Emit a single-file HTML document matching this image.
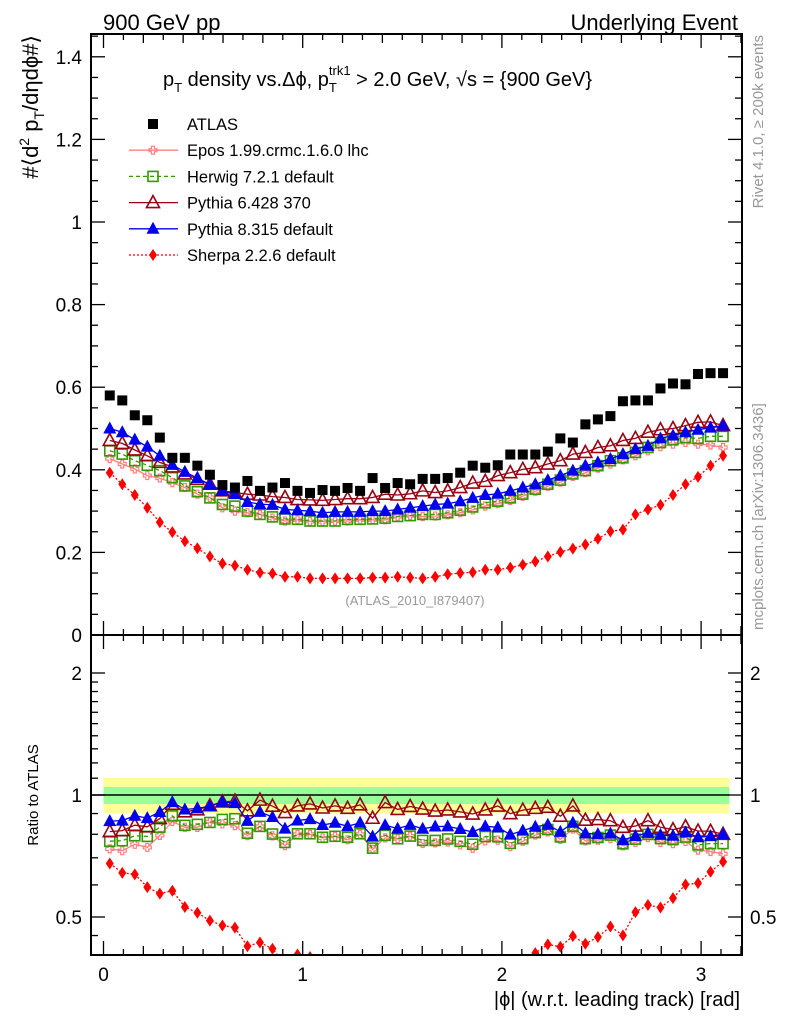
<!DOCTYPE html>
<html><head><meta charset="utf-8"><style>
html,body{margin:0;padding:0;background:#fff}
svg{display:block;font-family:"Liberation Sans",sans-serif}
</style></head><body>
<svg id="chart" width="786" height="1024" viewBox="0 0 786 1024">
<defs>
<clipPath id="clipMain"><rect x="91" y="34" width="651" height="600"/></clipPath>
<clipPath id="clipRatio"><rect x="91" y="635" width="651" height="320"/></clipPath>
</defs>
<g id="bands"></g>
<g id="marks"></g>
<g id="axes"></g>
<text x="103" y="30" font-size="22">900 GeV pp</text>
<text x="738" y="30" font-size="22" text-anchor="end">Underlying Event</text>
<text x="163" y="86" font-size="20">p<tspan font-size="13" dy="6">T</tspan><tspan dy="-6"> density vs.Δϕ, p</tspan><tspan font-size="13" dy="6">T</tspan><tspan font-size="13" dx="-8" dy="-17">trk1</tspan><tspan dy="11"> &gt; 2.0 GeV, √s = {900 GeV}</tspan></text>
<text x="415" y="605" font-size="13" fill="#999" text-anchor="middle">(ATLAS_2010_I879407)</text>
<text transform="translate(38,35) rotate(-90)" font-size="22" text-anchor="end">#⟨d<tspan font-size="14" dy="-9">2</tspan><tspan dy="9"> p</tspan><tspan font-size="14" dy="6">T</tspan><tspan dy="-6">/dηdϕ#⟩</tspan></text>
<text transform="translate(38,795) rotate(-90)" font-size="15" text-anchor="middle">Ratio to ATLAS</text>
<text x="740" y="1006" font-size="20" text-anchor="end">|ϕ| (w.r.t. leading track) [rad]</text>
<text transform="translate(763,35) rotate(-90)" font-size="15" fill="#999" text-anchor="end">Rivet 4.1.0, ≥ 200k events</text>
<text transform="translate(763,630) rotate(-90)" font-size="15" fill="#999" text-anchor="start">mcplots.cern.ch [arXiv:1306.3436]</text>
<g id="legend"></g>
</svg>
<script>
const atlas=[0.580,0.568,0.532,0.520,0.478,0.429,0.429,0.410,0.388,0.363,0.357,0.373,0.349,0.357,0.368,0.349,0.344,0.351,0.349,0.356,0.349,0.380,0.356,0.368,0.365,0.378,0.378,0.380,0.393,0.410,0.405,0.411,0.437,0.437,0.437,0.444,0.476,0.466,0.510,0.522,0.530,0.566,0.568,0.568,0.597,0.609,0.607,0.632,0.634,0.634];
const epos=[0.427,0.414,0.402,0.386,0.380,0.369,0.357,0.341,0.333,0.308,0.300,0.296,0.292,0.283,0.276,0.279,0.275,0.275,0.276,0.276,0.279,0.279,0.279,0.287,0.289,0.287,0.288,0.291,0.296,0.303,0.312,0.318,0.326,0.336,0.348,0.360,0.370,0.384,0.393,0.404,0.414,0.424,0.434,0.446,0.456,0.462,0.466,0.462,0.460,0.454];
const herwig=[0.446,0.438,0.422,0.411,0.398,0.381,0.361,0.347,0.332,0.316,0.312,0.300,0.292,0.286,0.281,0.280,0.276,0.276,0.276,0.280,0.280,0.281,0.283,0.287,0.289,0.292,0.292,0.296,0.302,0.310,0.320,0.324,0.332,0.341,0.353,0.365,0.375,0.390,0.398,0.410,0.422,0.429,0.442,0.454,0.466,0.473,0.478,0.476,0.481,0.481];
const pythia6=[0.471,0.464,0.448,0.434,0.418,0.407,0.390,0.377,0.365,0.349,0.345,0.341,0.339,0.335,0.333,0.328,0.327,0.326,0.328,0.330,0.330,0.333,0.341,0.339,0.342,0.349,0.345,0.349,0.357,0.368,0.372,0.386,0.393,0.401,0.405,0.414,0.422,0.438,0.442,0.454,0.458,0.471,0.476,0.491,0.497,0.500,0.507,0.515,0.516,0.507];
const pythia8=[0.500,0.491,0.473,0.456,0.434,0.412,0.395,0.380,0.364,0.349,0.341,0.322,0.317,0.315,0.304,0.302,0.300,0.296,0.298,0.298,0.298,0.300,0.300,0.304,0.308,0.312,0.316,0.318,0.324,0.332,0.339,0.342,0.349,0.357,0.365,0.375,0.386,0.398,0.410,0.418,0.426,0.438,0.450,0.458,0.476,0.483,0.491,0.497,0.502,0.507];
const sherpa=[0.393,0.365,0.339,0.308,0.273,0.249,0.227,0.210,0.190,0.173,0.168,0.158,0.151,0.149,0.141,0.141,0.137,0.137,0.137,0.137,0.137,0.139,0.139,0.141,0.139,0.137,0.141,0.147,0.150,0.152,0.158,0.158,0.163,0.170,0.178,0.190,0.201,0.209,0.219,0.233,0.251,0.255,0.292,0.304,0.315,0.339,0.365,0.383,0.410,0.434];
const xTicks=[0,1,2,3];
const yTicks=[0,0.2,0.4,0.6,0.8,1,1.2,1.4];
const yTickLabels=["0","0.2","0.4","0.6","0.8","1","1.2","1.4"];
const rTicks=[0.5,1,2];
const rTickLabels=["0.5","1","2"];
const NB=atlas.length;

const NS="http://www.w3.org/2000/svg";
const X=v=>103.5+v*199.2;
const Y=v=>635-v*413;
const R=r=>795-122*Math.log2(r);
const XR=742;
function mk(tag,attrs,parent){const e=document.createElementNS(NS,tag);for(const k in attrs)e.setAttribute(k,attrs[k]);parent.appendChild(e);return e;}
const binX=i=>X((i+0.5)*Math.PI/NB);

const bands=document.getElementById('bands');
const marks=document.getElementById('marks');
const axes=document.getElementById('axes');
const legend=document.getElementById('legend');

let b1=mk('rect',{x:X(0),y:778,width:X(Math.PI)-X(0),height:35,fill:'#ffff99'},bands);


let b2=mk('rect',{x:X(0),y:787,width:X(Math.PI)-X(0),height:17,fill:'#99ff99'},bands);


let l1=mk('line',{x1:91,x2:X(Math.PI),y1:R(1),y2:R(1),stroke:'#000','stroke-width':1.5},bands);



function marker(type,cx,cy,color,g){
  let e;
  if(type==='square') e=mk('rect',{x:cx-5,y:cy-5,width:10,height:10,fill:'#000'},g);
  else if(type==='osquare') e=mk('rect',{x:cx-5,y:cy-5,width:10,height:10,fill:'none',stroke:color,'stroke-width':1.6},g);
  else if(type==='cross') e=mk('path',{d:`M${cx-1.5},${cy-4}h3v2.5h2.5v3h-2.5v2.5h-3v-2.5h-2.5v-3h2.5z`,fill:'none',stroke:color,'stroke-width':1.2},g);
  else if(type==='otri') e=mk('path',{d:`M${cx},${cy-7}L${cx+6.5},${cy+5}L${cx-6.5},${cy+5}Z`,fill:'none',stroke:color,'stroke-width':1.6},g);
  else if(type==='tri') e=mk('path',{d:`M${cx},${cy-7}L${cx+6.5},${cy+5}L${cx-6.5},${cy+5}Z`,fill:color},g);
  else if(type==='diamond') e=mk('path',{d:`M${cx},${cy-6}L${cx+4},${cy}L${cx},${cy+6}L${cx-4},${cy}Z`,fill:color},g);
  return e;
}
const series=[
 {name:'epos',label:'Epos 1.99.crmc.1.6.0 lhc',data:epos,color:'#ff8080',m:'cross',dash:''},
 {name:'herwig',label:'Herwig 7.2.1 default',data:herwig,color:'#339900',m:'osquare',dash:'4,3'},
 {name:'pythia6',label:'Pythia 6.428 370',data:pythia6,color:'#990011',m:'otri',dash:''},
 {name:'pythia8',label:'Pythia 8.315 default',data:pythia8,color:'#0000ee',m:'tri',dash:''},
 {name:'sherpa',label:'Sherpa 2.2.6 default',data:sherpa,color:'#ff0000',m:'diamond',dash:'2,2'}
];
series.forEach(s=>{
  const g=mk('g',{'clip-path':'url(#clipMain)'},marks);
  
  
  const pts=s.data.map((v,i)=>binX(i).toFixed(1)+','+Y(v).toFixed(1)).join(' ');
  mk('polyline',{points:pts,fill:'none',stroke:s.color,'stroke-width':1.3,'stroke-dasharray':s.dash},g);
  s.data.forEach((v,i)=>{const p=marker(s.m,binX(i),Y(v),s.color,g);
    
    });
  const gr=mk('g',{'clip-path':'url(#clipRatio)'},marks);
  
  
  const rp=s.data.map((v,i)=>binX(i).toFixed(1)+','+R(v/atlas[i]).toFixed(1)).join(' ');
  mk('polyline',{points:rp,fill:'none',stroke:s.color,'stroke-width':1.3,'stroke-dasharray':s.dash},gr);
  s.data.forEach((v,i)=>{const p=marker(s.m,binX(i),R(v/atlas[i]),s.color,gr);
    
    });
});
const ga=mk('g',{'clip-path':'url(#clipMain)'},marks);


atlas.forEach((v,i)=>{const p=marker('square',binX(i),Y(v),'#000',ga);
  
  });

let f1=mk('rect',{x:91,y:34,width:XR-91,height:601,fill:'none',stroke:'#000','stroke-width':2},axes);


let f2=mk('rect',{x:91,y:635,width:XR-91,height:320,fill:'none',stroke:'#000','stroke-width':2},axes);


for(let k=0;k<=32;k++){
  const v=k/10, x=X(v); if(x>XR-1)break;
  const len=k%10===0?14:(k%2===0?9:6);
  [[34,1],[635,-1],[635,1],[955,-1]].forEach(([y0,d])=>mk('line',{x1:x,x2:x,y1:y0,y2:y0+d*len,stroke:'#000','stroke-width':1.3},axes));
}
xTicks.forEach(v=>{const t=mk('text',{x:X(v),y:981,'font-size':19,'text-anchor':'middle'},axes);t.textContent=v;
  
  });
for(let k=0;k<=29;k++){
  const v=k*0.05,y=Y(v); if(y<35)break;
  const len=k%4===0?14:7;
  mk('line',{x1:91,x2:91+len,y1:y,y2:y,stroke:'#000','stroke-width':1.3},axes);
  mk('line',{x1:XR,x2:XR-len,y1:y,y2:y,stroke:'#000','stroke-width':1.3},axes);
}
yTicks.forEach((v,i)=>{const t=mk('text',{x:82,y:Y(v)+7,'font-size':19,'text-anchor':'end'},axes);t.textContent=yTickLabels[i];
  
  });
[0.45,0.5,0.6,0.7,0.8,0.9,1,1.1,1.2,1.3,1.4,1.5,1.6,1.7,1.8,1.9,2,2.5].forEach(v=>{
  const y=R(v); if(y<636||y>954)return;
  const len=rTicks.includes(v)?14:7;
  mk('line',{x1:91,x2:91+len,y1:y,y2:y,stroke:'#000','stroke-width':1.3},axes);
  mk('line',{x1:XR,x2:XR-len,y1:y,y2:y,stroke:'#000','stroke-width':1.3},axes);
});
rTicks.forEach((v,i)=>{
  const t=mk('text',{x:82,y:R(v)+7,'font-size':19,'text-anchor':'end'},axes);t.textContent=rTickLabels[i];
  
  
  const t2=mk('text',{x:750,y:R(v)+7,'font-size':19,'text-anchor':'start',fill:'#000'},axes);t2.textContent=rTickLabels[i];
  
  
});
const legItems=[{label:'ATLAS',m:'square',color:'#000',dash:null}].concat(series);
legItems.forEach((s,i)=>{
  const y=124+i*26.2;
  const g=mk('g',{},legend);
  
  
  if(s.dash!==null) mk('line',{x1:129,x2:178,y1:y,y2:y,stroke:s.color,'stroke-width':1.3,'stroke-dasharray':s.dash},g);
  marker(s.m,153,y,s.color,g);
  const t=mk('text',{x:187,y:y+6,'font-size':16.5},g);t.textContent=s.label;
});
</script>
</body></html>
